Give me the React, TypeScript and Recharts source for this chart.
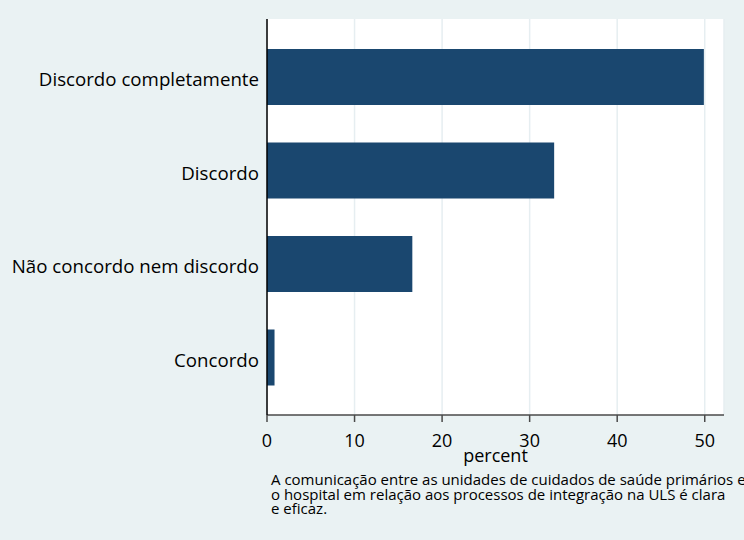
import React from 'react';
import { BarChart, Bar, XAxis, YAxis, CartesianGrid } from 'recharts';

const categories = ['Discordo completamente', 'Discordo', 'Não concordo nem discordo', 'Concordo'];
const percents = [49.9, 32.8, 16.6, 0.86];
const xTicks = [0, 10, 20, 30, 40, 50];
const captionLines = [
  'A comunicação entre as unidades de cuidados de saúde primários e',
  'o hospital em relação aos processos de integração na ULS é clara',
  'e eficaz.',
];

const data = categories.map((c, i) => ({ name: c, percent: percents[i] }));

const FONT = '"Open Sans", "Noto Sans", sans-serif';

export default function App() {
  return (
    <div style={{ position: 'absolute', left: 0, top: 0, width: 744, height: 540, background: '#eaf2f3', overflow: 'hidden', fontFamily: FONT }}>
      <BarChart
        width={744}
        height={540}
        data={data}
        layout="vertical"
        margin={{ top: 19, right: 20, left: 0, bottom: 75 }}
      >
        <CartesianGrid horizontal={false} vertical={true} stroke="#e6eef1" strokeWidth={1.5} fill="#ffffff" />
        <XAxis
          type="number"
          dataKey="percent"
          domain={[0, 52.2]}
          ticks={xTicks}
          allowDataOverflow
          height={50}
          axisLine={{ stroke: '#4a4a4a', strokeWidth: 1.5 }}
          tickLine={{ stroke: '#4a4a4a', strokeWidth: 1.5 }}
          tickSize={7}
          tickMargin={12}
          tick={{ fill: '#000', fontSize: 18, fontFamily: FONT }}
          label={{ value: 'percent', position: 'insideBottom', offset: 3, fill: '#000', fontSize: 18, fontFamily: FONT }}
        />
        <YAxis
          type="category"
          dataKey="name"
          width={267}
          padding={{ top: 11, bottom: 11 }}
          axisLine={{ stroke: '#000', strokeWidth: 1.5 }}
          tickLine={false}
          tickMargin={2}
          tick={{ fill: '#000', fontSize: 18.7, fontFamily: FONT, dy: 3 }}
        />
        <Bar dataKey="percent" fill="#1a476f" barSize={56} isAnimationActive={false} />
      </BarChart>
      <div style={{ position: 'absolute', left: 271, top: 472, fontSize: 15, lineHeight: '14.5px', color: '#000', whiteSpace: 'nowrap', fontFamily: FONT }}>
        {captionLines.map((l, i) => (
          <div key={i}>{l}</div>
        ))}
      </div>
    </div>
  );
}
